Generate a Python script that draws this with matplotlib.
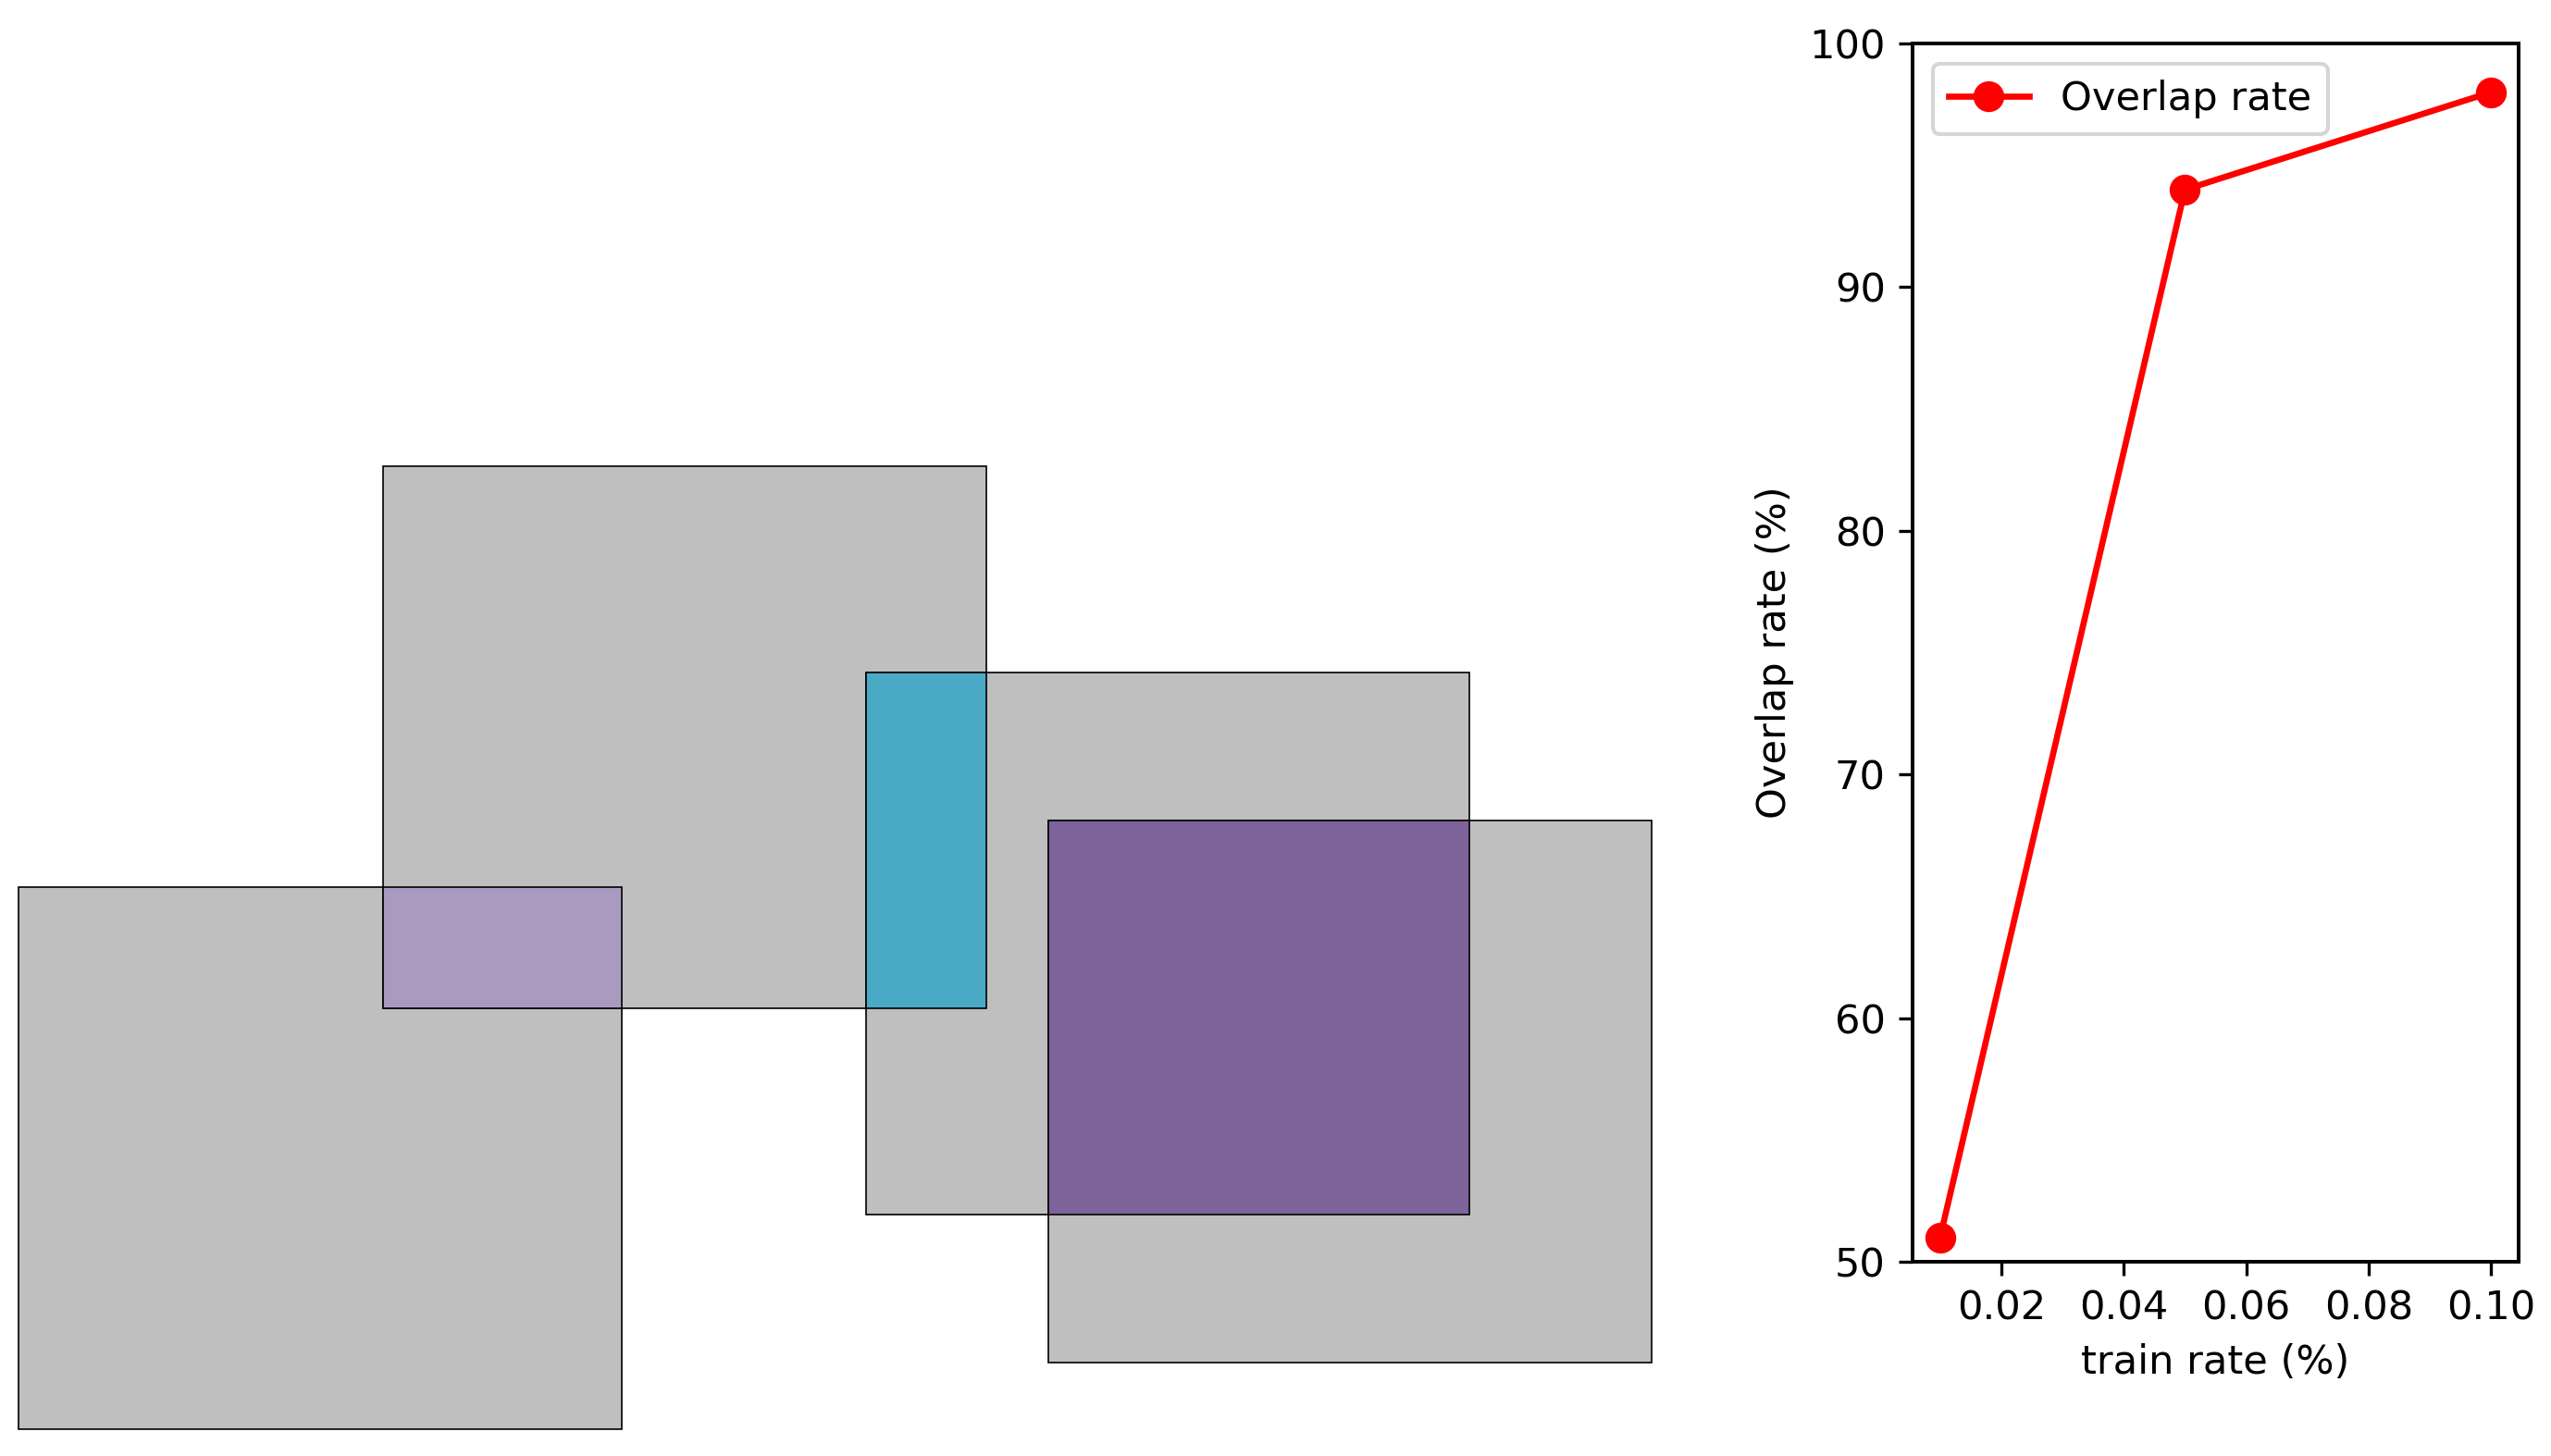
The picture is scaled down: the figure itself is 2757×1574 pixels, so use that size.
import matplotlib.pyplot as plt
from matplotlib.patches import Rectangle

# boxes on the left panel: (x, y, width, height) in panel units
box_x = [0.30, 6.35, 14.35, 17.38]
box_y = [0.50, 8.26, 4.45, 1.72]
box_w = [10, 10, 10, 10]
box_h = [10, 10, 10, 10]

# overlapping pairs and the colour of their intersection
overlap_pairs = [(0, 1), (1, 2), (2, 3)]
overlap_colors = ["#AA9AC0", "#4AAAC6", "#7E639B"]

# right panel series
train_rate = [0.01, 0.05, 0.10]
overlap_rate = [51, 94, 98]


def intersect(i, j):
    """intersection rectangle of box i and box j"""
    x0 = max(box_x[i], box_x[j])
    y0 = max(box_y[i], box_y[j])
    x1 = min(box_x[i] + box_w[i], box_x[j] + box_w[j])
    y1 = min(box_y[i] + box_h[i], box_y[j] + box_h[j])
    return x0, y0, x1 - x0, y1 - y0


def main():
    """main function"""
    W, H = 2757, 1574
    plt.rcParams["font.size"] = 10.4
    plt.rcParams["axes.linewidth"] = 0.95
    fig = plt.figure(figsize=(W / 300, H / 300), dpi=300)

    # left schematic
    ax0 = fig.add_axes([0, 0, 1850 / W, 1])
    ax0.set_xlim(0, 1850 / 65.2)
    ax0.set_ylim(0, H / 58.6)
    ax0.axis("off")
    for x, y, w, h in zip(box_x, box_y, box_w, box_h):
        ax0.add_patch(Rectangle((x, y), w, h, facecolor="#BFBFBF",
                                edgecolor="black", linewidth=0.4))
    for (i, j), c in zip(overlap_pairs, overlap_colors):
        x, y, w, h = intersect(i, j)
        ax0.add_patch(Rectangle((x, y), w, h, facecolor=c,
                                edgecolor="black", linewidth=0.4))

    # right line plot
    ax = fig.add_axes([2067 / W, 210 / H, 655 / W, 1317 / H])
    ax.plot(train_rate, overlap_rate, "o-", color="red", label="Overlap rate",
            markersize=7, linewidth=1.6)
    ax.set_ylim(50, 100)
    ax.set_xticks([0.02, 0.04, 0.06, 0.08, 0.10])
    ax.set_xlabel("train rate (%)")
    ax.set_ylabel("Overlap rate (%)")
    ax.legend(loc="upper left")

    fig.savefig("out.png", dpi=300)


if __name__ == "__main__":
    main()
